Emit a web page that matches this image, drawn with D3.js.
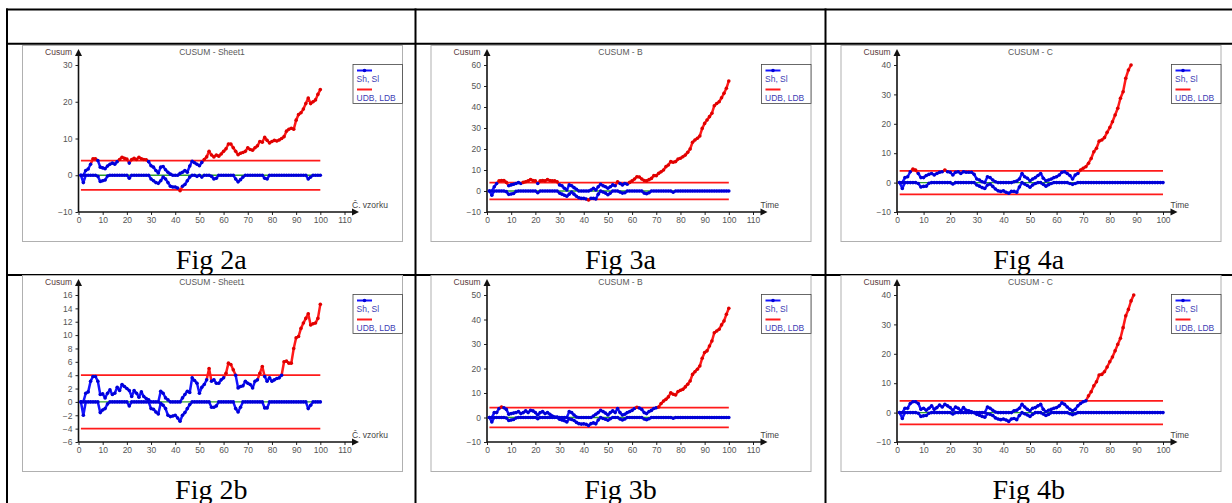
<!DOCTYPE html>
<html>
<head>
<meta charset="utf-8">
<script src="https://cdn.jsdelivr.net/npm/d3@7"></script>
<style>
  body { margin: 0; background: #fff; }
  svg { display: block; }
  .tick text { font-family: Arial, "Liberation Sans", sans-serif; font-size: 8.5px; fill: #555; }
  .tick line { stroke: #222; }
</style>
</head>
<body>
<svg id="page" width="1232" height="503"></svg>
<script>
// CUSUM values, one value per sample (sample 1, 2, 3 ...)
// Sh = upper cusum, Sl = lower cusum
const sh2a = [
  0, 0, 1.3, 1.7, 3, 4.5, 4.5, 4, 2.2, 2,
  1.8, 2.5, 3, 3.3, 3, 3.7, 4.3, 4.9, 4.6, 4.4,
  3.3, 4.3, 4.6, 4.3, 4.9, 4.5, 4.3, 4.2, 3.7, 2.6,
  2.2, 1.3, 0.6, 2.2, 2.4, 1.5, 0.8, 0.3, 0, 0,
  0, 0.5, 0.8, 1.3, 0.8, 2.5, 3.8, 3.4, 3, 2.6,
  3.5, 4.3, 5, 6.5, 5.5, 5, 5.5, 5.2, 5.8, 6.5,
  7.2, 8.5, 8.5, 7.5, 6.5, 5.6, 6, 6.2, 6.5, 7.5,
  7, 6.8, 7.5, 8, 9.2, 9, 10.3, 9.5, 8.8, 9.2,
  9.5, 9.3, 9.6, 10, 10.5, 12, 12.5, 12.8, 12.5, 15,
  16.5, 17, 18, 19.5, 21, 19.5, 20, 20.5, 22, 23.3
];
const sl2a = [
  0, -2, 0, 0, 0, 0, 0, -0.3, -1.7, -1.5,
  -1.3, -0.2, 0, 0, 0, 0, 0, 0, 0, 0,
  -0.8, 0, 0, 0, 0, 0, 0, 0, 0, -1,
  -1.5, -2, -2.2, -1.5, -0.5, -1, -2, -3, -3.2, -3.2,
  -3.5, -4.2, -3, -2.5, -1.5, -0.5, 0, 0, -0.3, 0,
  -0.5, 0, 0, 0, -0.3, -1, -0.8, 0, 0, 0,
  0, 0, 0, 0, -1, -1.8, -1.2, -0.5, 0, 0,
  0, 0, 0, 0, 0, 0, -0.8, -1, 0, 0,
  0, 0, 0, 0, 0, 0, 0, 0, 0, 0,
  0, 0, 0, 0, -1, -0.5, 0, 0, 0, 0
];
const sh2b = [
  0, 0, 1.3, 1.5, 3.1, 3.8, 3.8, 3.1, 1.1, 1.2,
  0.6, 1.3, 1.8, 1.1, 1.3, 2.2, 1.7, 2.6, 2.3, 2,
  1.7, 0.8, 1.7, 1.3, 0.7, 1.5, 0.8, 0.5, 0.3, 0,
  0, 0, 0, 1.6, 1.3, 0.6, 0.3, 0, 0, 0,
  0, 0, 0.6, 1.1, 1.6, 1.4, 3.6, 3.2, 2.8, 1.3,
  2.2, 2.6, 3.3, 5, 3.1, 3.3, 2.8, 2.8, 3.3, 3.6,
  4.3, 5.8, 5.6, 4.8, 4, 2.1, 2.3, 2.4, 3.1, 2.8,
  2.6, 2.1, 3.1, 3.3, 4.3, 5.3, 3.8, 3.1, 3.6, 3.1,
  3.3, 3.5, 3.6, 4, 6, 6.1, 5.8, 5.8, 8, 9.6,
  9.8, 11, 11.8, 12.5, 13.2, 11.5, 11.7, 11.8, 12.5, 14.6
];
const sl2b = [
  0, -2, 0, 0, 0, 0, 0, 0, -1.6, -1.2,
  -1, -0.3, 0, 0, 0, 0, 0, 0, 0, 0,
  -0.6, 0, 0, 0, 0, 0, 0, 0, 0, -1,
  -1.1, -1.5, -1.8, -0.2, -0.5, -1, -2, -2.2, -2.1, -2,
  -2.4, -2.9, -2, -1.6, -1, -0.4, 0, 0, 0, 0,
  0, 0, 0, 0, -0.8, -0.8, -0.6, 0, 0, 0,
  0, 0, 0, 0, -1, -1.5, -0.8, 0, 0, 0,
  0, 0, 0, 0, 0, 0, -0.9, -0.9, 0, 0,
  0, 0, 0, 0, 0, 0, 0, 0, 0, 0,
  0, 0, 0, 0, -1, -0.5, 0, 0, 0, 0
];
const sh3a = [
  0, 0, 2, 3.6, 4.8, 5, 5, 4.1, 2.5, 2.9,
  3.2, 3.6, 4, 3.6, 4.1, 4.4, 4.8, 5.5, 5, 4.8,
  3.6, 4.8, 5, 4.8, 5.4, 5, 4.8, 4.8, 4.4, 2.9,
  2.5, 1.3, 0.5, 2.9, 2.5, 1.6, 0.8, 0, 0, 0,
  0, 0, 0.5, 1.3, 0.5, 2, 3.2, 2.5, 2, 1.3,
  2, 2.9, 2.5, 4.4, 3.6, 2.9, 3.6, 3.2, 4.1, 4.8,
  5.7, 6.8, 6.7, 5.7, 5, 4.8, 5.4, 6, 7.3, 7.3,
  8.4, 9.2, 10, 11.6, 12.4, 14, 13.7, 14, 15.2, 15.6,
  16.3, 17.1, 18.4, 20, 23.2, 24.3, 25.1, 26.2, 29.8, 32.2,
  33.8, 35.4, 37, 40.6, 41.7, 42.5, 44.4, 46.5, 48.9, 52.4
];
const sl3a = [
  0, -2, 0, 0, 0, 0, 0, -0.3, -1.6, -1.4,
  -1.2, -0.2, 0, 0, 0, 0, 0, 0, 0, 0,
  -0.8, 0, 0, 0, 0, 0, 0, 0, 0, -1,
  -1.5, -2, -2.5, -1.5, -0.5, -1.5, -2.5, -3.2, -3.5, -3.5,
  -3.8, -4.3, -3.5, -3.5, -3.8, -1.5, 0, -0.5, -1, -1.8,
  -1, 0, 0, 0, -0.5, -1, -0.8, 0, 0, 0,
  0, 0, 0, 0, -1, -1.3, -0.8, 0, 0, 0,
  0, 0, 0, 0, 0, 0, -0.6, 0, 0, 0,
  0, 0, 0, 0, 0, 0, 0, 0, 0, 0,
  0, 0, 0, 0, 0, 0, 0, 0, 0, 0
];
const sh3b = [
  0, 0, 2, 2, 3.7, 4.3, 4, 3.3, 1.3, 1.6,
  1.8, 2, 2.4, 1.6, 2, 2.7, 2, 2.9, 2.7, 2,
  1, 2, 2.4, 1.6, 2, 1.3, 0.6, 0.2, 0.2, 0,
  0, 0, 0, 2.4, 2, 1, 0.2, 0, 0, 0,
  0, 0, 0, 0.6, 1.3, 2, 2.9, 2.4, 1.8, 1,
  2, 2.7, 2, 3.7, 2, 1, 1.3, 2, 2.4, 2.9,
  3.7, 4.2, 3.9, 3.3, 2, 1.6, 2.4, 2.9, 3.7, 4,
  4.3, 5.7, 6.7, 7.4, 8.4, 10.1, 9.5, 9.2, 10.6, 11.1,
  11.5, 12.5, 13.6, 14.9, 17.6, 18.7, 19.7, 21, 24.2, 26.5,
  27.2, 29.2, 31.2, 34.6, 35.3, 36, 37.8, 39.4, 42.1, 44.6
];
const sl3b = [
  0, -1.8, 0, 0, 0, 0, 0, -0.2, -1.2, -1,
  -0.8, -0.2, 0, 0, 0, 0, 0, 0, 0, 0,
  -0.5, 0, 0, 0, 0, 0, 0, 0, 0, -0.7,
  -1, -1.3, -1.8, -0.5, -0.8, -1.2, -2, -2.5, -2.7, -2.6,
  -2.8, -3.3, -2.5, -2.2, -2.6, -1, 0, -0.4, -0.7, -1.1,
  -0.5, 0, 0, 0, -0.6, -1, -0.6, 0, 0, 0,
  0, 0, 0, 0, -0.6, -0.9, -0.5, 0, 0, 0,
  0, 0, 0, 0, 0, 0, -0.3, 0, 0, 0,
  0, 0, 0, 0, 0, 0, 0, 0, 0, 0,
  0, 0, 0, 0, 0, 0, 0, 0, 0, 0
];
// in 4a / 4b Sh leaves the top of the plot, so only the visible samples are kept
const sh4a = [
  0, 0, 1.7, 2, 3.7, 4.6, 4.3, 3.1, 1.7, 1.7,
  2.4, 2.8, 3.1, 2.6, 3.1, 3.5, 3.7, 4.3, 3.7, 3.5,
  2.6, 3.5, 3.7, 3.1, 3.7, 3.5, 3.5, 3.5, 2.8, 1.2,
  0.9, 0.3, 0, 2, 1.7, 0.9, 0.3, 0, 0, 0,
  0, 0, 0, 0.3, 0.5, 1.2, 3.1, 2, 1.5, 0.6,
  1.2, 1.7, 2.4, 3.1, 1.5, 0.6, 0.9, 1.2, 1.7, 2,
  2.6, 3.5, 3.7, 3.1, 2.4, 1.2, 2.6, 3.1, 4.3, 4.9,
  5.4, 6.6, 8.2, 10.5, 11.7, 14.1, 14.5, 15.3, 17.1, 18.7,
  20.7, 23, 25.3, 28.7, 30.9, 35.5, 38.3, 40
];
const sl4a = [
  0, -2, 0, 0, 0, 0, 0, -0.3, -1.5, -1.3,
  -1.2, -0.2, 0, 0, 0, 0, 0, 0, 0, 0,
  -0.5, 0, 0, 0, 0, 0, 0, 0, 0, -0.8,
  -1.2, -1.7, -2, -0.8, -0.5, -1.3, -2.2, -2.8, -3, -2.8,
  -3.3, -3.6, -3, -3, -3.3, -1.5, 0, -0.5, -1, -1.6,
  -0.8, -0.3, 0, 0, -0.6, -1.2, -0.7, -0.3, 0, 0,
  0, 0, 0, 0, -0.3, -0.6, -0.3, 0, 0, 0,
  0, 0, 0, 0, 0, 0, 0, 0, 0, 0,
  0, 0, 0, 0, 0, 0, 0, 0, 0, 0,
  0, 0, 0, 0, 0, 0, 0, 0, 0, 0
];
const sh4b = [
  0, 0, 1.5, 1.5, 3.1, 3.7, 3.7, 3.1, 1.1, 1.5,
  0.8, 1.5, 2.3, 1.1, 1.7, 2.6, 1.9, 2.8, 2.3, 1.7,
  0.8, 1.9, 1.5, 0.6, 1.7, 0.8, 0.6, 0.3, 0, 0,
  0, 0, 0, 1.9, 1.5, 0.8, 0.2, 0, 0, 0,
  0, 0, 0, 0.6, 0.8, 1.5, 2.8, 1.9, 1.1, 0.6,
  1.5, 1.7, 2.3, 2.8, 1.1, 0.3, 0.8, 1.1, 1.5, 1.7,
  2.3, 3.3, 2.8, 1.9, 1.1, 0.6, 1.1, 2.3, 3.1, 3.7,
  4, 5.7, 7.1, 9.1, 10.5, 12.8, 13, 13.9, 15.5, 17.3,
  18.9, 21, 23.2, 25.3, 28.9, 32.9, 35.1, 38, 40
];
const sl4b = [
  0, -2, 0, 0, 0, 0, 0, -0.2, -1.3, -1.1,
  -1, -0.2, 0, 0, 0, 0, 0, 0, 0, 0,
  -0.5, 0, 0, 0, 0, 0, 0, 0, 0, -0.6,
  -0.9, -1.3, -1.6, -0.4, -0.6, -1, -1.8, -2.2, -2.4, -2.2,
  -2.5, -3, -2.2, -2, -2.4, -1, 0, -0.4, -0.8, -1.3,
  -0.6, 0, 0, 0, -0.5, -1, -0.6, 0, 0, 0,
  0, 0, 0, 0, -0.4, -0.7, -0.4, 0, 0, 0,
  0, 0, 0, 0, 0, 0, 0, 0, 0, 0,
  0, 0, 0, 0, 0, 0, 0, 0, 0, 0,
  0, 0, 0, 0, 0, 0, 0, 0, 0, 0
];

// decision bounds and centre line
const udb = 4;
const ldb = -4;
const boundSamples = [1, 100];

// tick labels
const xTicks110 = [0, 10, 20, 30, 40, 50, 60, 70, 80, 90, 100, 110];
const xTicks100 = [0, 10, 20, 30, 40, 50, 60, 70, 80, 90, 100];
const yTicks2a = [-10, 0, 10, 20, 30];
const yTicks2b = [-6, -4, -2, 0, 2, 4, 6, 8, 10, 12, 14, 16];
const yTicks3a = [-10, 0, 10, 20, 30, 40, 50, 60];
const yTicks3b = [-10, 0, 10, 20, 30, 40, 50];
const yTicks4 = [-10, 0, 10, 20, 30, 40];

const titles = ['CUSUM - Sheet1', 'CUSUM - B', 'CUSUM - C'];
const xLabels = ['Č. vzorku', 'Time', 'Time'];
const captions = [['Fig 2a', 'Fig 3a', 'Fig 4a'], ['Fig 2b', 'Fig 3b', 'Fig 4b']];
const legendLabels = ['Sh, Sl', 'UDB, LDB'];

const figures = [
  { col: 0, row: 0, sh: sh2a, sl: sl2a, xTicks: xTicks110, yTicks: yTicks2a },
  { col: 1, row: 0, sh: sh3a, sl: sl3a, xTicks: xTicks110, yTicks: yTicks3a },
  { col: 2, row: 0, sh: sh4a, sl: sl4a, xTicks: xTicks100, yTicks: yTicks4 },
  { col: 0, row: 1, sh: sh2b, sl: sl2b, xTicks: xTicks110, yTicks: yTicks2b },
  { col: 1, row: 1, sh: sh3b, sl: sl3b, xTicks: xTicks110, yTicks: yTicks3b },
  { col: 2, row: 1, sh: sh4b, sl: sl4b, xTicks: xTicks100, yTicks: yTicks4 },
];

// colours
const BLUE = '#1414ff';
const RED = '#ff1a1a';
const GREEN = '#2f9f2f';
const SANS = 'Arial, "Liberation Sans", sans-serif';

// page layout (table)
const colLeft = [7, 415.5, 825.5];
const colRight = [415.5, 825.5, 1240];
const frameTop = [45, 275];
const captionBase = [268.5, 498.5];
const frameW = 380, frameH = 196;

const svg = d3.select('#page');

// Table grid
const grid = svg.append('g').attr('stroke', '#000').attr('stroke-width', 2);
[9.5, 43.8, 275].forEach(yy => {
  grid.append('line').attr('x1', 6).attr('x2', 1240).attr('y1', yy).attr('y2', yy);
});
[7, 415.5, 825.5].forEach(xx => {
  grid.append('line').attr('x1', xx).attr('x2', xx).attr('y1', 8.5).attr('y2', 510);
});

// Captions
captions.forEach((row, r) => row.forEach((txt, c) => {
  svg.append('text')
    .attr('x', (colLeft[c] + colRight[c]) / 2 - (c === 2 ? 4 : 0))
    .attr('y', captionBase[r])
    .attr('text-anchor', 'middle')
    .style('font-family', '"Liberation Serif", "Times New Roman", serif')
    .style('font-size', '28px')
    .attr('fill', '#000')
    .text(txt);
}));

// draw one series; segments touching a point beyond the bound are red
function drawSeries(g, values, isOut, x, y) {
  const pts = values.map((v, k) => ({ i: k + 1, v: v, out: isOut(v) }));
  const runs = [];
  d3.pairs(pts).forEach(([a, b]) => {
    const red = a.out || b.out;
    const last = runs[runs.length - 1];
    if (last && last.red === red) last.pts.push(b);
    else runs.push({ red: red, pts: [a, b] });
  });
  const line = d3.line().x(d => x(d.i)).y(d => y(d.v));
  g.append('g').selectAll('path')
    .data(runs)
    .join('path')
    .attr('d', r => line(r.pts))
    .attr('fill', 'none')
    .attr('stroke', r => r.red ? RED : BLUE)
    .attr('stroke-width', 2.5)
    .attr('stroke-linejoin', 'round');
  return pts;
}

function drawMarkers(g, pts, x, y) {
  g.append('g').selectAll('circle')
    .data(pts)
    .join('circle')
    .attr('cx', d => x(d.i))
    .attr('cy', d => y(d.v))
    .attr('r', 1.8)
    .attr('fill', d => d.out ? '#e00000' : '#0000d8');
}

function drawChart(f) {
  const fx = colLeft[f.col] + 15;
  const fy = frameTop[f.row];
  const g = svg.append('g').attr('transform', `translate(${fx},${fy})`);

  g.append('rect').attr('x', 0.5).attr('y', 0.5)
    .attr('width', frameW).attr('height', frameH)
    .attr('fill', '#fff').attr('stroke', '#b0b0b0');

  const xMax = f.xTicks[f.xTicks.length - 1];
  const x = d3.scaleLinear().domain([0, xMax]).range([56.5, 322.5]);
  const y = d3.scaleLinear().domain(d3.extent(f.yTicks)).range([167, 20]);

  // title + axis names
  g.append('text').attr('x', 190).attr('y', 9.5).attr('text-anchor', 'middle')
    .style('font-family', SANS).style('font-size', '8.5px').attr('fill', '#5a5a5a')
    .text(titles[f.col]);
  g.append('text').attr('x', 50).attr('y', 9.5).attr('text-anchor', 'end')
    .style('font-family', SANS).style('font-size', '8.5px').attr('fill', '#5a3a3a')
    .text('Cusum');
  g.append('text').attr('x', 330).attr('y', 162.5)
    .style('font-family', SANS).style('font-size', '8.5px').attr('fill', '#444')
    .text(xLabels[f.col]);

  // axes
  const xAxis = d3.axisBottom(x).tickValues(f.xTicks).tickSize(3).tickSizeOuter(0).tickPadding(2);
  g.append('g').attr('transform', `translate(0,${y.range()[0]})`).call(xAxis)
    .call(a => a.select('.domain').remove());
  const yAxis = d3.axisLeft(y).tickValues(f.yTicks).tickSize(3).tickSizeOuter(0).tickPadding(3);
  g.append('g').attr('transform', `translate(${x(0)},0)`).call(yAxis)
    .call(a => a.select('.domain').remove());

  const x0 = x(0), yb = y.range()[0];
  g.append('line').attr('x1', x0).attr('x2', x0).attr('y1', yb).attr('y2', 8)
    .attr('stroke', '#111').attr('stroke-width', 1.6);
  g.append('path').attr('d', `M${x0},4 L${x0 - 3.5},11 L${x0 + 3.5},11 Z`).attr('fill', '#111');
  g.append('line').attr('x1', x0).attr('x2', 333).attr('y1', yb).attr('y2', yb)
    .attr('stroke', '#111').attr('stroke-width', 1.6);
  g.append('path').attr('d', `M337,${yb} L330,${yb - 3.5} L330,${yb + 3.5} Z`).attr('fill', '#111');

  // decision bounds
  [udb, ldb].forEach(b => {
    g.append('path')
      .attr('d', d3.line().x(d => x(d)).y(() => y(b))(boundSamples))
      .attr('stroke', RED).attr('stroke-width', 1.7).attr('fill', 'none');
  });

  // lower cusum, centre line, upper cusum
  const slPts = drawSeries(g, f.sl, v => v < ldb, x, y);
  g.append('path')
    .attr('d', d3.line().x(d => x(d)).y(() => y(0))(boundSamples))
    .attr('stroke', GREEN).attr('stroke-width', 1.4).attr('fill', 'none');
  drawMarkers(g, slPts, x, y);
  const shPts = drawSeries(g, f.sh, v => v > udb, x, y);
  drawMarkers(g, shPts, x, y);

  // legend
  const lg = g.append('g').attr('transform', 'translate(331,19.5)');
  lg.append('rect').attr('width', 49.5).attr('height', 39)
    .attr('fill', '#fff').attr('stroke', '#444').attr('stroke-width', 0.8);
  lg.append('line').attr('x1', 4).attr('x2', 19).attr('y1', 6).attr('y2', 6)
    .attr('stroke', BLUE).attr('stroke-width', 2);
  lg.append('circle').attr('cx', 11.5).attr('cy', 6).attr('r', 1.8).attr('fill', '#0000d8');
  lg.append('line').attr('x1', 4).attr('x2', 19).attr('y1', 25).attr('y2', 25)
    .attr('stroke', RED).attr('stroke-width', 2);
  legendLabels.forEach((t, k) => {
    lg.append('text').attr('x', 3.5).attr('y', 17 + k * 19.5)
      .style('font-family', SANS).style('font-size', '8.5px').attr('fill', '#3c3cb4')
      .text(t);
  });
}

figures.forEach(drawChart);
</script>
</body>
</html>
